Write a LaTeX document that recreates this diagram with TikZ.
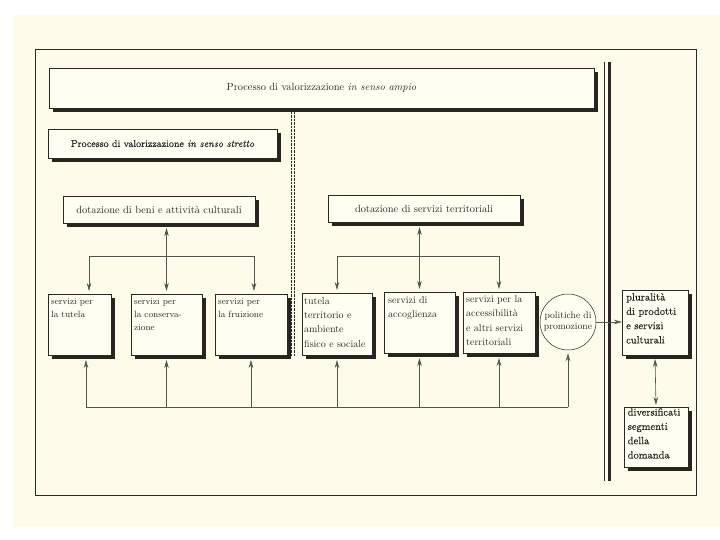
\documentclass[tikz,border=0pt]{standalone}
\usepackage{fontspec}
\newfontfamily\semib{lmroman10-regular.otf}[FakeBold=0.45, ItalicFont=lmroman10-italic.otf]
\usetikzlibrary{arrows.meta}
\definecolor{paperc}{RGB}{253,252,234}
\definecolor{boxc}{RGB}{254,254,243}
\definecolor{inkc}{RGB}{40,40,36}
\definecolor{shadc}{RGB}{38,38,33}
\definecolor{linec}{RGB}{85,85,78}
\newcommand{\mybox}[5]{%
  \fill[shadc] (#2+4,#3+4) rectangle (#4+4,#5+4);
  \node[boxst, minimum width={#4-#2}, minimum height={#5-#3}, anchor=north west] (#1) at (#2,#3) {};
}
\tikzset{
  boxst/.style={draw=inkc, line width=0.5pt, fill=boxc, inner sep=0pt, outer sep=0pt},
  txt/.style={inner sep=0pt, align=left, anchor=north west, text=inkc},
  ttl/.style={inner sep=0pt, text=inkc, font=\fontsize{10.4pt}{12pt}\selectfont},
  smallt/.style={txt, font=\fontsize{9pt}{13.3pt}\selectfont},
  midt/.style={txt, font=\fontsize{10pt}{14.3pt}\selectfont},
  bigt/.style={txt, font=\semib\fontsize{10.5pt}{14.3pt}\selectfont},
  conn/.style={draw=linec, line width=0.6pt},
  arr/.style={conn, -{Stealth[length=8pt,width=4.5pt]}},
  darr/.style={conn, {Stealth[length=8pt,width=4.5pt]}-{Stealth[length=8pt,width=4.5pt]}},
  dline/.style={draw=inkc, line width=0.6pt, dash pattern=on 2.5pt off 1pt},
}
\begin{document}
\begin{tikzpicture}[x=1pt,y=-1pt]
\useasboundingbox (0,0) rectangle (720,540);
\fill[white] (0,0) rectangle (720,540);
\fill[paperc] (13,15) rectangle (720,527);
% outer frame
\draw[inkc, line width=0.6pt] (35,49) rectangle (696,495);
% separators
\draw[inkc, line width=0.7pt] (604.5,62) -- (604.5,481);
\draw[inkc, line width=3.6pt] (609.4,62) -- (609.4,481);
\draw[dline] (291.3,112) -- (291.3,356);
\draw[dline] (294.5,112) -- (294.5,356);
% boxes
\mybox{ampio}{49}{68}{594}{108}
\mybox{stretto}{48}{129}{277}{158}
\mybox{beni}{63}{196}{255}{223}
\mybox{servterr}{328}{195}{520}{222}
\mybox{tutela}{48}{294}{111}{355}
\mybox{conserv}{131}{294}{202}{355}
\mybox{fruiz}{215}{294}{287}{355}
\mybox{tutelaterr}{302}{293}{372}{355}
\mybox{accogl}{384}{292}{455}{353}
\mybox{access}{463}{292}{535}{353}
\mybox{plural}{622}{290}{688}{355}
\mybox{divers}{624}{407}{688}{467}
\node[circle, draw=inkc, line width=0.5pt, fill=boxc, minimum size=56pt, inner sep=0pt] (promo) at (568,322) {};
% texts
\node[ttl] (ampio-t) at (ampio.center) {Processo di valorizzazione \textit{in senso ampio}};
\node[ttl, font=\semib\fontsize{10pt}{12pt}\selectfont] (stretto-t) at (stretto.center) {Processo di valorizzazione \textit{in senso stretto}};
\node[ttl] (beni-t) at (beni.center) {dotazione di beni e attività culturali};
\node[ttl] (servterr-t) at (servterr.center) {dotazione di servizi territoriali};
\node[smallt] (tutela-t) at ([shift={(3,4)}]tutela.north west) {servizi per\\la tutela};
\node[smallt] (conserv-t) at ([shift={(3,4)}]conserv.north west) {servizi per\\la conserva-\\zione};
\node[smallt] (fruiz-t) at ([shift={(3,4)}]fruiz.north west) {servizi per\\la fruizione};
\node[midt] (tutelaterr-t) at ([shift={(2,4)}]tutelaterr.north west) {tutela\\territorio e\\ambiente\\fisico e sociale};
\node[midt] (accogl-t) at ([shift={(4,4.5)}]accogl.north west) {servizi di\\accoglienza};
\node[midt] (access-t) at ([shift={(3,3.5)}]access.north west) {servizi per la\\accessibilità\\e altri servizi\\territoriali};
\node[inner sep=0pt, align=center, text=inkc, font=\fontsize{9.6pt}{11pt}\selectfont] (promo-t) at (promo.center) {politiche di\\promozione};
\node[bigt] (plural-t) at ([shift={(4,3)}]plural.north west) {pluralità\\di prodotti\\e servizi\\culturali};
\node[bigt] (divers-t) at ([shift={(3.5,1)}]divers.north west) {diversificati\\segmenti\\della\\domanda};
% left connectors
\coordinate (ly) at (0,256);
\coordinate (lj1) at (89,256);
\coordinate (lj2) at (254,256);
\draw[conn] (lj1) -- (lj2);
\draw[arr, shorten >=3pt] (lj1) -- (lj1 |- tutela.north);
\draw[arr, shorten >=3pt] (lj2) -- (lj2 |- fruiz.north);
\draw[darr, shorten <=5pt, shorten >=3pt] (conserv.north |- beni.south) -- (conserv.north);
% right connectors
\coordinate (rj1) at (tutelaterr.north |- ly);
\coordinate (rj2) at (access.north |- ly);
\draw[conn] (rj1) -- (rj2);
\draw[arr, shorten >=3pt] (rj1) -- (tutelaterr.north);
\draw[arr, shorten >=3pt] (rj2) -- (access.north);
\draw[darr, shorten <=5pt, shorten >=3pt] (accogl.north |- servterr.south) -- (accogl.north);
% bottom connectors
\coordinate (bl) at (86,407);
\coordinate (br) at (promo.south |- bl);
\draw[conn] (bl) -- (br);
\draw[arr, shorten >=5pt] (bl) -- (bl |- tutela.south);
\draw[arr, shorten >=5pt] (conserv.south |- bl) -- (conserv.south);
\draw[arr, shorten >=5pt] (fruiz.south |- bl) -- (fruiz.south);
\draw[arr, shorten >=5pt] (tutelaterr.south |- bl) -- (tutelaterr.south);
\draw[arr, shorten >=5pt] (accogl.south |- bl) -- (accogl.south);
\draw[arr, shorten >=5pt] (access.south |- bl) -- (access.south);
\draw[arr, shorten >=3pt] (br) -- (promo.south);
% right side
\draw[arr] (promo.east) -- (plural.west |- promo.east);
\draw[darr, shorten <=4pt, shorten >=2pt] (plural.south) -- (divers.north);
\end{tikzpicture}
\end{document}
